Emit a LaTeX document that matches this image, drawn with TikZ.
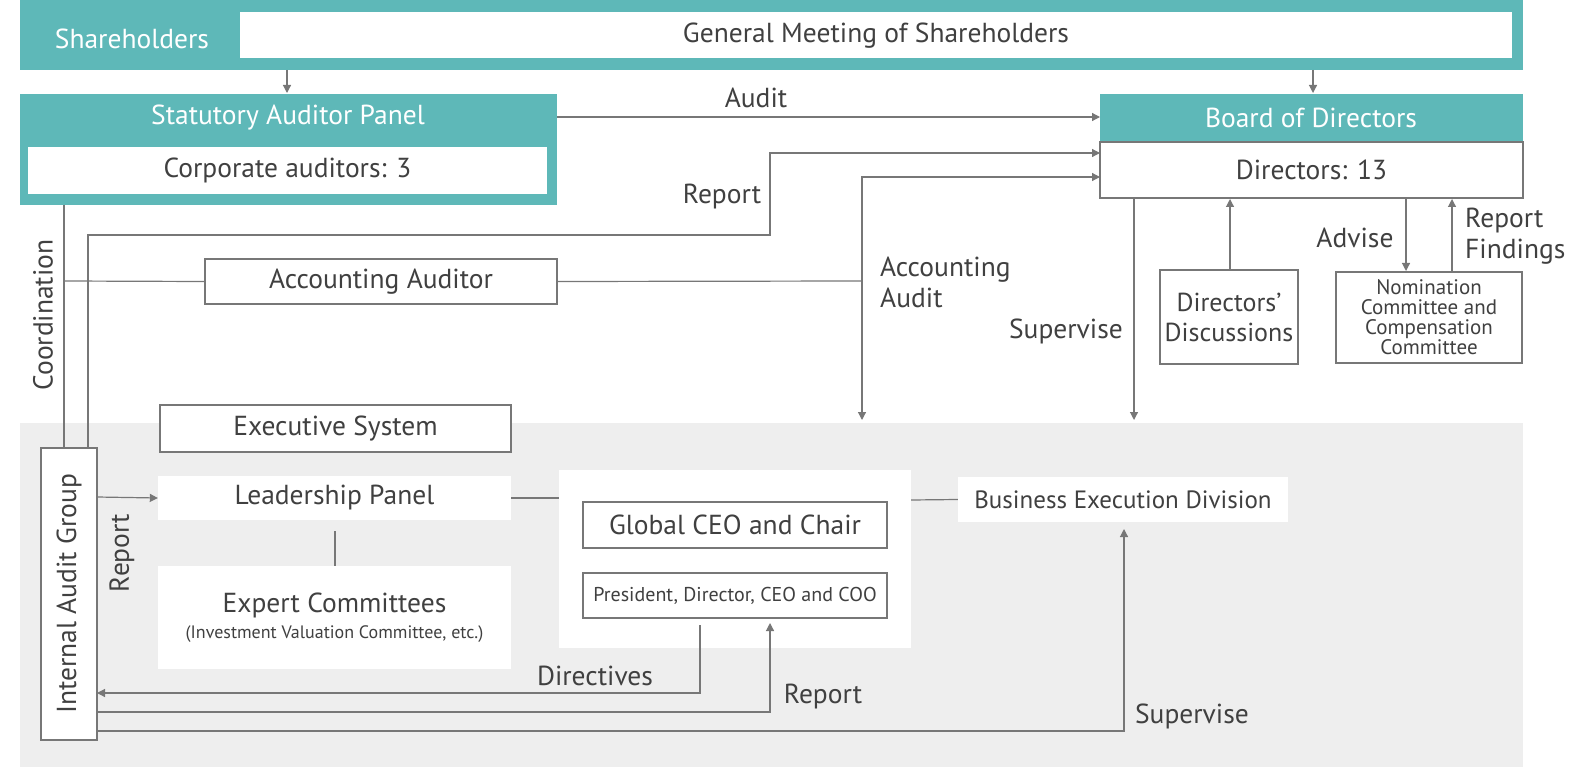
\documentclass[tikz,border=0pt]{standalone}
\usepackage{fontspec}
\setmainfont{PT Sans}
\usetikzlibrary{arrows.meta}
\definecolor{teal1}{HTML}{5EB8B8}
\definecolor{bg}{HTML}{EEEEEE}
\definecolor{ln}{HTML}{777777}
\definecolor{tx}{HTML}{404040}
\begin{document}
\begin{tikzpicture}[x=1pt,y=-1pt,
  every node/.style={text=tx,font=\fontsize{27.5}{30}\selectfont,inner sep=0pt},
  wb/.style={draw=ln,line width=1.2pt,fill=white},
  ln/.style={draw=ln,line width=1.2pt},
  ar/.style={ln,-{Triangle[width=8pt,length=8pt]}},
  lbl/.style={text=tx}]
\useasboundingbox (0,0) rectangle (1574,767);
% backgrounds
\fill[bg] (20,423) rectangle (1523,767);
\fill[teal1] (20,0) rectangle (1523,70);
\node[fill=white,minimum width=1272pt,minimum height=46pt,anchor=north west] (gms) at (240,12) {};
\node at (876,36) {General Meeting of Shareholders};
\node[text=white] (sh) at (132,39) {Shareholders};
% statutory
\fill[teal1] (20,94) rectangle (557,205);
\node[text=white] (sap) at (288,118) {Statutory Auditor Panel};
\node[fill=white,minimum width=519pt,minimum height=47pt] (ca) at (287.5,170.5) {Corporate auditors: 3};
% board
\fill[teal1] (1100,94) rectangle (1523,142);
\node[text=white] (bod) at (1311,118) {Board of Directors};
\node[wb,minimum width=423pt,minimum height=56pt] (dir) at (1311.5,170) {Directors: 13};
% arrows from top
\coordinate (a1) at (287,70); \coordinate (a2) at (287,93);
\draw[ar] (a1) -- (a2);
\coordinate (b1) at (1313,70); \coordinate (b2) at (1313,93);
\draw[ar] (b1) -- (b2);
% audit
\coordinate (au1) at (557,117); \coordinate (au2) at (1100,117);
\draw[ar] (au1) -- (au2);
\node at (756,98) {Audit};
% accounting auditor
\node[wb,minimum width=352pt,minimum height=45pt] (aa) at (381,281.5) {Accounting Auditor};
% executive
\node[wb,minimum width=351pt,minimum height=47pt] (es) at (335.5,428.5) {Executive System};
% internal audit group
\node[wb,minimum width=56pt,minimum height=292pt] (iag) at (69,594) {};
\node[rotate=90] at (69,594) {Internal Audit Group};
% Report line from IAG to board
\coordinate (r1) at (88,448); \coordinate (r2) at (88,235); \coordinate (r3) at (770,235);
\coordinate (r4) at (770,153); \coordinate (r5) at (1100,153);
\draw[ar] (r1) -- (r2) -- (r3) -- (r4) -- (r5);
\node at (722,197) {Report};
% coordination
\coordinate (c1) at (64,205); \coordinate (c2) at (64,448); \coordinate (c3) at (64,281);
\draw[ln] (c1) -- (c2);
\draw[ln] (c3) -- (aa.west);
\node[rotate=90] at (43,315) {Coordination};
% accounting audit
\coordinate (k1) at (862,281); \coordinate (k2) at (862,177); \coordinate (k3) at (1100,177);
\coordinate (k4) at (862,420);
\draw[ln] (aa.east) -- (k1);
\draw[ar] (k1) -- (k2) -- (k3);
\draw[ar] (k1) -- (k4);
\node[align=left,anchor=west] at (880,282) {Accounting\\[1pt]Audit};
% supervise
\coordinate (s1) at (1134,198); \coordinate (s2) at (1134,420);
\draw[ar] (s1) -- (s2);
\node at (1066,331) {Supervise};
% directors discussions
\node[wb,minimum width=138pt,minimum height=94pt,align=center,font=\fontsize{26}{29}\selectfont] (dd) at (1229,317) {Directors’\\[1pt]Discussions};
\coordinate (d1) at (1230,270); \coordinate (d2) at (1230,199);
\draw[ar] (d1) -- (d2);
% nomination
\node[wb,minimum width=186pt,minimum height=91pt,align=center,font=\fontsize{21}{20}\selectfont] (nc) at (1429,317.5) {Nomination\\Committee and\\Compensation\\Committee};
\coordinate (n1) at (1406,199); \coordinate (n2) at (1406,271);
\draw[ar] (n1) -- (n2);
\node at (1355,238) {Advise};
\coordinate (n3) at (1452,271); \coordinate (n4) at (1452,199);
\draw[ar] (n3) -- (n4);
\node[align=left,anchor=west] at (1465,236) {Report\\[1pt]Findings};
% leadership
\node[fill=white,minimum width=353pt,minimum height=44pt] (lp) at (334.5,498) {Leadership Panel};
\coordinate (i1) at (97,497);
\draw[ar] (i1) -- (lp.west);
\node[rotate=90] at (122,553) {Report};
\node[fill=white,minimum width=353pt,minimum height=103pt] (ec) at (334.5,617.5) {};
\node at (334.5,605) {Expert Committees};
\node[font=\fontsize{18}{20}\selectfont] at (334.5,634) {(Investment Valuation Committee, etc.)};
\coordinate (l1) at (335,531); \coordinate (l2) at (335,566);
\draw[ln] (l1) -- (l2);
% CEO group
\node[fill=white,minimum width=352pt,minimum height=178pt] (cg) at (735,559) {};
\node[wb,minimum width=304pt,minimum height=46pt] (gc) at (735,525) {Global CEO and Chair};
\node[wb,minimum width=304pt,minimum height=45pt,font=\fontsize{20}{22}\selectfont] (pd) at (735,595.5) {President, Director, CEO and COO};
\coordinate (g1) at (559,498);
\draw[ln] (lp.east) -- (g1);
\node[fill=white,minimum width=330pt,minimum height=45pt,font=\fontsize{25}{28}\selectfont] (bed) at (1123,499.5) {Business Execution Division};
\coordinate (g2) at (911,500);
\draw[ln] (g2) -- (bed.west);
% directives
\coordinate (v1) at (700,625); \coordinate (v2) at (700,693); \coordinate (v3) at (97,693);
\draw[ar] (v1) -- (v2) -- (v3);
\node at (595,676) {Directives};
\coordinate (w1) at (97,712); \coordinate (w2) at (770,712); \coordinate (w3) at (770,623);
\draw[ar] (w1) -- (w2) -- (w3);
\node at (823,697) {Report};
\coordinate (x1) at (97,731); \coordinate (x2) at (1124,731); \coordinate (x3) at (1124,529);
\draw[ar] (x1) -- (x2) -- (x3);
\node at (1192,716) {Supervise};
\end{tikzpicture}
\end{document}
